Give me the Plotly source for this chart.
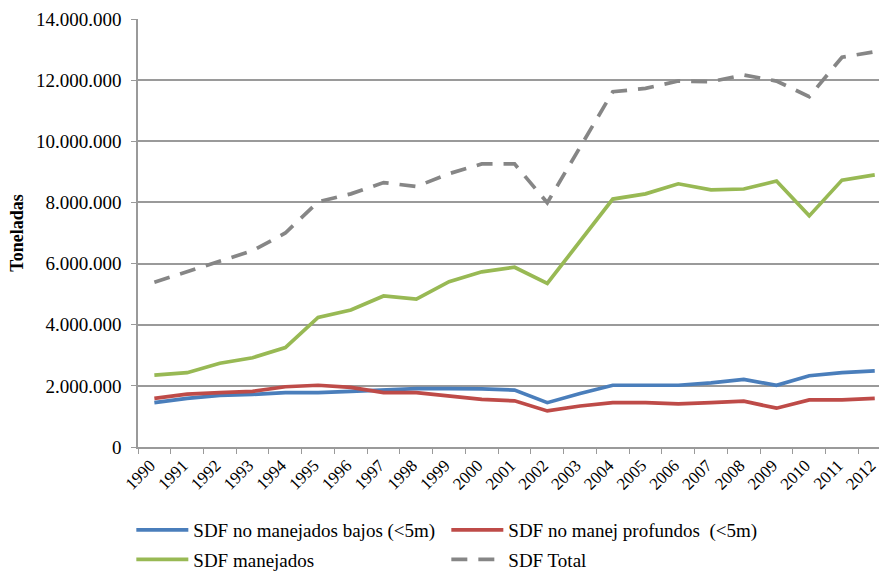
import plotly.graph_objects as go

years = [str(y) for y in range(1990, 2013)]

no_manejados_bajos = [1450000, 1590000, 1690000, 1720000, 1780000, 1780000, 1820000, 1860000,
                      1910000, 1910000, 1900000, 1860000, 1450000, 1750000, 2020000, 2020000,
                      2020000, 2100000, 2210000, 2020000, 2330000, 2430000, 2490000]
no_manej_profundos = [1590000, 1730000, 1780000, 1820000, 1970000, 2020000, 1950000, 1780000,
                      1780000, 1670000, 1560000, 1510000, 1180000, 1340000, 1450000, 1450000,
                      1410000, 1450000, 1500000, 1270000, 1540000, 1540000, 1590000]
manejados = [2350000, 2430000, 2740000, 2920000, 3250000, 4240000, 4480000, 4940000,
             4840000, 5410000, 5730000, 5880000, 5350000, 6750000, 8110000, 8280000,
             8610000, 8410000, 8440000, 8700000, 7560000, 8730000, 8900000]
total = [5390000, 5730000, 6090000, 6420000, 7000000, 8020000, 8280000, 8650000,
         8520000, 8940000, 9260000, 9260000, 7990000, 9780000, 11620000, 11730000,
         11970000, 11950000, 12170000, 11970000, 11460000, 12750000, 12930000]

names = ["SDF no manejados bajos (<5m)", "SDF no manej profundos  (<5m)",
         "SDF manejados", "SDF Total"]
y_ticks = [0, 2000000, 4000000, 6000000, 8000000, 10000000, 12000000, 14000000]

FONT = "'Liberation Serif', 'Times New Roman', 'DejaVu Serif', serif"
GRID = "#9a9a9a"

fig = go.Figure()
fig.add_trace(go.Scatter(x=years, y=no_manejados_bajos, name=names[0], mode="lines",
                         line=dict(color="#4A7EBB", width=3.7), legend="legend"))
fig.add_trace(go.Scatter(x=years, y=no_manej_profundos, name=names[1], mode="lines",
                         line=dict(color="#BE4B48", width=3.7), legend="legend"))
fig.add_trace(go.Scatter(x=years, y=manejados, name=names[2], mode="lines",
                         line=dict(color="#98B954", width=3.7), legend="legend2"))
fig.add_trace(go.Scatter(x=years, y=total, name=names[3], mode="lines",
                         line=dict(color="#868686", width=3.7, dash="16px,11px"),
                         legend="legend2"))

legend_common = dict(orientation="h", xanchor="left", yanchor="middle",
                     entrywidth=248, entrywidthmode="pixels", itemwidth=52,
                     font=dict(family=FONT, size=19, color="black"),
                     bgcolor="rgba(0,0,0,0)", borderwidth=0)

fig.update_layout(
    width=879, height=571,
    margin=dict(l=138, r=0, t=19, b=124, autoexpand=False),
    paper_bgcolor="white", plot_bgcolor="white",
    separators=",.",
    font=dict(family=FONT, size=19, color="black"),
    legend=dict(x=-0.009, y=-0.194, **legend_common),
    legend2=dict(x=-0.009, y=-0.263, **legend_common),
    xaxis=dict(
        type="category", range=[-0.5, 22.13],
        tickson="boundaries", ticks="outside", ticklen=5, tickcolor=GRID,
        showline=True, linecolor=GRID, linewidth=1.5,
        showgrid=False, tickangle=-45, ticklabelshift=-4,
        tickfont=dict(family=FONT, size=17, color="black"),
    ),
    yaxis=dict(
        range=[0, 14000000], tickvals=y_ticks, tickformat=",d",
        ticks="outside", ticklen=5, tickcolor=GRID, ticklabelstandoff=6,
        showline=True, linecolor=GRID, linewidth=1.5,
        showgrid=True, gridcolor=GRID, gridwidth=1.5, zeroline=False,
        tickfont=dict(family=FONT, size=19, color="black"),
        title=dict(text="<b>Toneladas</b>", font=dict(family=FONT, size=18, color="black"),
                   standoff=8),
    ),
)

fig.write_html("out.html")
